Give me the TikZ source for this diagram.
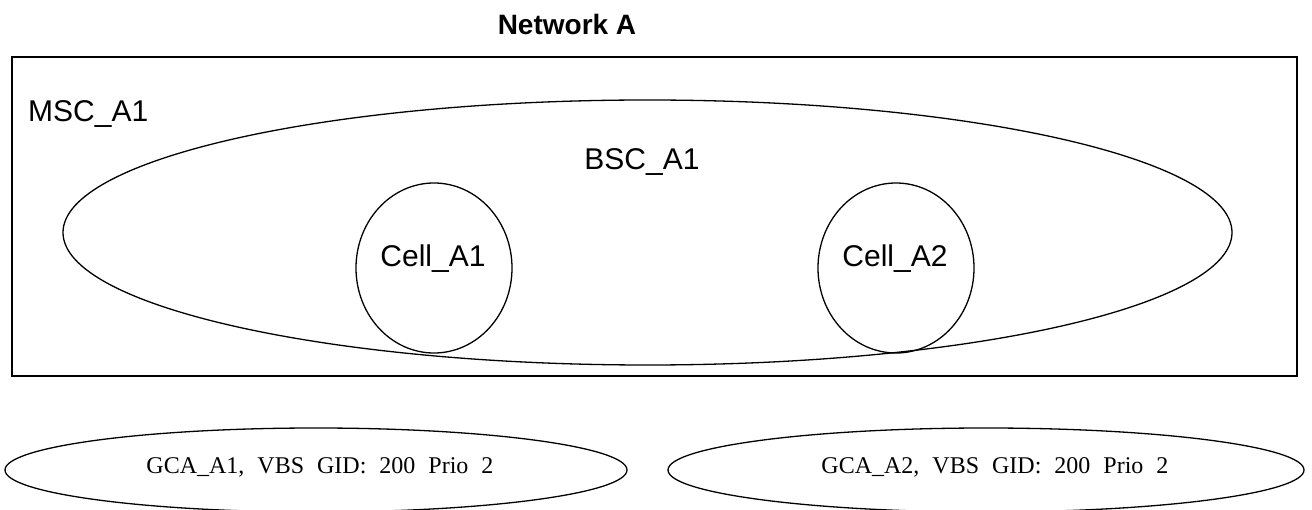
\documentclass[tikz,border=0pt]{standalone}
\usepackage{fontspec}
\setmainfont{Liberation Sans}
\newfontfamily\serifface{Liberation Serif}
\usetikzlibrary{shapes.geometric}
\newcommand\gcatext[1]{{\serifface\fontsize{24}{28}\selectfont\spaceskip=13pt\relax #1}}
\tikzset{
  shape line/.style={draw=black, line width=1.3pt},
  oval/.style={shape line, ellipse, inner sep=0pt},
  sanslabel/.style={font=\fontsize{30}{34}\selectfont, inner sep=0pt},
  gcalabel/.style={inner sep=0pt, anchor=base},
}
\begin{document}
\begin{tikzpicture}[x=1pt,y=-1pt]
\useasboundingbox (0,0) rectangle (1312,510);
\clip (0,0) rectangle (1312,510);
\node[font=\bfseries\fontsize{28}{32}\selectfont, inner sep=0pt, anchor=base] (title) at (567,35) {Network A};
\node[shape line, rectangle, inner sep=0pt, minimum width=1285pt, minimum height=319pt] (msc) at (654.5,216.5) {};
\node[sanslabel, anchor=base west] (msclabel) at (28,122) {MSC\_A1};
\node[oval, minimum width=1169pt, minimum height=265pt] (bsc) at (647.5,232.5) {};
\node[sanslabel, anchor=base] (bsclabel) at (642,170) {BSC\_A1};
\node[oval, minimum width=156pt, minimum height=170pt] (cell1) at (434,268) {};
\node[sanslabel, anchor=base] (cell1label) at (433,267) {Cell\_A1};
\node[oval, minimum width=156pt, minimum height=170pt] (cell2) at (896,268) {};
\node[sanslabel, anchor=base] (cell2label) at (895,267) {Cell\_A2};
\node[oval, minimum width=622pt, minimum height=84pt] (gca1) at (316,470) {};
\node[gcalabel] (gca1label) at (320,473) {\gcatext{GCA\_A1, VBS GID: 200 Prio 2}};
\node[oval, minimum width=636pt, minimum height=84pt] (gca2) at (986,470) {};
\node[gcalabel] (gca2label) at (995,473) {\gcatext{GCA\_A2, VBS GID: 200 Prio 2}};
\end{tikzpicture}
\end{document}
